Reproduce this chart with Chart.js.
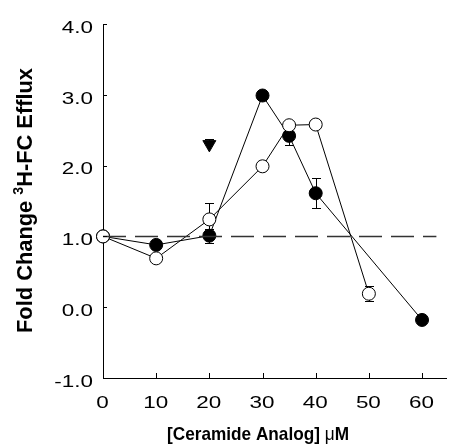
<!DOCTYPE html>
<html>
<head>
<meta charset="utf-8">
<script src="https://cdn.jsdelivr.net/npm/chart.js@4/dist/chart.umd.min.js"></script>
<style>
  html, body { margin: 0; padding: 0; background: #fff; }
  #wrap { width: 455px; height: 444px; }
</style>
</head>
<body>
<div id="wrap"><canvas id="chart"></canvas></div>
<script>
// values
const xTicks = [0, 10, 20, 30, 40, 50, 60]
const yTicks = [-1, 0, 1, 2, 3, 4]

const filledX = [0, 10, 20, 30, 35, 40, 60]
const filledY = [1.0, 0.88, 1.01, 2.99, 2.42, 1.61, -0.18]
const filledErr = [0, 0, 0.1, 0, 0.13, 0.21, 0]

const openX = [0, 10, 20, 30, 35, 40, 50]
const openY = [1.0, 0.69, 1.24, 1.99, 2.57, 2.58, 0.19]
const openErr = [0, 0, 0.23, 0, 0, 0, 0.105]

const triX = [20]
const triY = [2.3]
const triErrUp = [0.08]

const refLevel = 1.0
const refEnd = 62.7

const xTitle = '[Ceramide Analog] '
const yTitle1 = 'Fold Change '
const yTitleSup = '3'
const yTitle2 = 'H-FC Efflux'

function pts(xs, ys) {
    return xs.map((v, i) => ({ x: v, y: ys[i] }))
}

// text in the figure is drawn wider than normal Arial
function stretched(ctx, text, x, y, sx, align) {
    ctx.save()
    ctx.translate(x, y)
    ctx.scale(sx, 1)
    ctx.textAlign = align
    ctx.fillText(text, 0, 0)
    ctx.restore()
}

const errorBars = {
    id: 'errorBars',
    beforeDatasetsDraw(chart) {
        const { ctx, scales: { x, y } } = chart
        ctx.save()
        ctx.strokeStyle = '#000'
        ctx.lineWidth = 1
        chart.data.datasets.forEach(ds => {
            if (!ds.errUp) return
            ds.data.forEach((p, i) => {
                const up = ds.errUp[i], dn = ds.errDown[i]
                if (!up && !dn) return
                const px = Math.round(x.getPixelForValue(p.x)) + 0.5
                const y0 = Math.round(y.getPixelForValue(p.y - dn)) + 0.5
                const y1 = Math.round(y.getPixelForValue(p.y + up)) + 0.5
                ctx.beginPath()
                ctx.moveTo(px, y0)
                ctx.lineTo(px, y1)
                if (up) { ctx.moveTo(px - 4.5, y1); ctx.lineTo(px + 4.5, y1) }
                if (dn) { ctx.moveTo(px - 4.5, y0); ctx.lineTo(px + 4.5, y0) }
                ctx.stroke()
            })
        })
        ctx.restore()
    }
}

const axisText = {
    id: 'axisText',
    afterDraw(chart) {
        const { ctx, chartArea: a, scales: { x, y } } = chart
        ctx.save()
        // inward tick marks
        ctx.strokeStyle = '#000'
        ctx.lineWidth = 1
        ctx.beginPath()
        yTicks.forEach(v => {
            const py = Math.round(y.getPixelForValue(v)) + 0.5
            ctx.moveTo(a.left, py)
            ctx.lineTo(a.left + 4, py)
        })
        xTicks.forEach(v => {
            const px = Math.round(x.getPixelForValue(v)) + 0.5
            ctx.moveTo(px, a.bottom)
            ctx.lineTo(px, a.bottom - 5)
        })
        ctx.stroke()

        // tick labels
        ctx.fillStyle = '#000'
        ctx.textBaseline = 'alphabetic'
        ctx.font = '17px "Liberation Sans", Arial, sans-serif'
        yTicks.forEach(v => stretched(ctx, v.toFixed(1), a.left - 10, y.getPixelForValue(v) + 8.7, 1.32, 'right'))
        xTicks.forEach(v => stretched(ctx, String(v), x.getPixelForValue(v) - 0.5, a.bottom + 29.5, 1.32, 'center'))

        // x title
        const bold = 'bold 19px "Liberation Sans", Arial, sans-serif'
        const reg = '19px "Liberation Sans", Arial, sans-serif'
        ctx.font = bold
        const w1 = ctx.measureText(xTitle).width
        const wM = ctx.measureText('M').width
        ctx.font = reg
        const wMu = ctx.measureText('\u03bc').width
        const wx = w1 + wMu + wM
        const sx = 182 / wx
        ctx.save()
        ctx.translate(258 - wx * sx / 2, 440)
        ctx.scale(sx, 1)
        ctx.textAlign = 'left'
        ctx.font = bold
        ctx.fillText(xTitle, 0, 0)
        ctx.font = reg
        ctx.fillText('\u03bc', w1, 0)
        ctx.font = bold
        ctx.fillText('M', w1 + wMu, 0)
        ctx.restore()

        // y title, rotated, with superscript 3
        const ybold = 'bold 20px "Liberation Sans", Arial, sans-serif'
        const sup = 'bold 13px "Liberation Sans", Arial, sans-serif'
        ctx.font = ybold
        const a1 = ctx.measureText(yTitle1).width
        const a2 = ctx.measureText(yTitle2).width
        ctx.font = sup
        const as = ctx.measureText(yTitleSup).width
        const wy = a1 + as + a2
        const sLen = 265 / wy
        const capH = 20 * 0.716
        ctx.save()
        ctx.translate(24, 200.5)
        ctx.rotate(-Math.PI / 2)
        ctx.scale(sLen, 1.1)
        ctx.textAlign = 'left'
        ctx.font = ybold
        ctx.fillText(yTitle1, -wy / 2, capH / 2)
        ctx.font = sup
        ctx.fillText(yTitleSup, -wy / 2 + a1, capH / 2 - 8)
        ctx.font = ybold
        ctx.fillText(yTitle2, -wy / 2 + a1 + as, capH / 2)
        ctx.restore()

        ctx.restore()
    }
}

const myChart = new Chart(document.getElementById('chart'), {
    type: 'scatter',
    data: {
        datasets: [{
            label: 'reference',
            type: 'line',
            data: [{ x: 0, y: refLevel }, { x: refEnd, y: refLevel }],
            borderColor: '#333',
            borderWidth: 1.5,
            borderDash: [23, 9],
            pointRadius: 0,
            clip: false
        }, {
            label: 'open',
            data: pts(openX, openY),
            errUp: openErr,
            errDown: openErr,
            showLine: true,
            borderColor: '#000',
            borderWidth: 1,
            pointBackgroundColor: '#fff',
            pointBorderColor: '#000',
            pointBorderWidth: 1,
            pointRadius: 6.5,
            clip: false
        }, {
            label: 'triangle',
            data: pts(triX, triY),
            errUp: triErrUp,
            errDown: [0],
            pointStyle: 'triangle',
            rotation: 180,
            pointRadius: 7.5,
            pointBackgroundColor: '#000',
            pointBorderColor: '#000',
            pointBorderWidth: 1,
            clip: false
        }, {
            label: 'filled',
            data: pts(filledX, filledY),
            errUp: filledErr,
            errDown: filledErr,
            showLine: true,
            borderColor: '#000',
            borderWidth: 1,
            pointBackgroundColor: '#000',
            pointBorderColor: '#000',
            pointBorderWidth: 1,
            pointRadius: 6.5,
            clip: false
        }]
    },
    options: {
        responsive: true,
        maintainAspectRatio: false,
        animation: false,
        layout: { padding: { top: 24, left: 0, right: 0, bottom: 0 } },
        plugins: { legend: { display: false }, tooltip: { enabled: false } },
        scales: {
            x: {
                type: 'linear',
                min: 0,
                max: 64.6,
                afterBuildTicks: s => { s.ticks = xTicks.map(v => ({ value: v })) },
                afterFit: s => { s.height = 66 },
                ticks: { display: false },
                grid: { drawOnChartArea: false, drawTicks: false },
                border: { display: true, color: '#000', width: 1 }
            },
            y: {
                type: 'linear',
                min: -1,
                max: 4,
                afterBuildTicks: s => { s.ticks = yTicks.map(v => ({ value: v })) },
                afterFit: s => { s.width = 103 },
                ticks: { display: false },
                grid: { drawOnChartArea: false, drawTicks: false },
                border: { display: true, color: '#000', width: 1 }
            }
        }
    },
    plugins: [errorBars, axisText]
});
</script>
</body>
</html>
